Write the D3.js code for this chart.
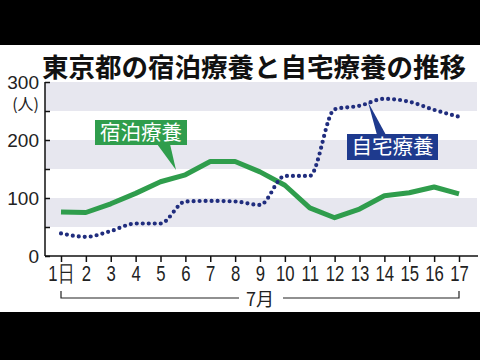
<!DOCTYPE html>
<html>
<head>
<meta charset="utf-8">
<script src="https://d3js.org/d3.v7.min.js"></script>
<style>
  body { margin:0; background:#000; }
  svg text { font-family: "Noto Sans CJK JP", "Noto Sans", sans-serif; }
</style>
</head>
<body>
<svg id="chart" width="480" height="360"></svg>
<script>
// 7月の日付
const days = d3.range(1, 18);
// 宿泊療養（人）
const hotel = [76, 75, 90, 108, 128, 140, 163, 163, 145, 122, 83, 66, 81, 104, 109, 119, 107];
// 自宅療養（人）
const home = [39, 33, 43, 56, 56, 94, 95, 94, 88, 138, 138, 253, 259, 271, 266, 252, 240];
const yTicks = [0, 50, 100, 150, 200, 250, 300];
const yLabels = [0, 100, 200, 300];
const bands = [[50, 100], [150, 200], [250, 300]];

const svg = d3.select('#chart');
svg.append('rect').attr('x', 0).attr('y', 45).attr('width', 480).attr('height', 267).attr('fill', '#fff');

const x = d3.scaleLinear().domain([1, 17]).range([61, 459]);
const y = d3.scaleLinear().domain([0, 300]).range([256, 82]);
const left = 45, right = 477;

// title
svg.append('text')
  .attr('x', 42).attr('y', 77)
  .style('font-size', '26.5px').style('font-weight', 'bold')
  .attr('fill', '#111')
  .text('東京都の宿泊療養と自宅療養の推移');

// gray bands
svg.append('g').selectAll('rect').data(bands).enter().append('rect')
  .attr('x', left).attr('width', right - left)
  .attr('y', d => y(d[1])).attr('height', d => y(d[0]) - y(d[1]))
  .attr('fill', '#e7e7ef');

// y axis
const yAxis = svg.append('g').attr('transform', 'translate(' + left + ',0)')
  .call(d3.axisLeft(y).tickValues(yTicks).tickSize(-5).tickPadding(6)
    .tickFormat(d => yLabels.includes(d) ? d : ''));
yAxis.select('.domain').attr('d', 'M0,' + y(300) + 'V' + y(0)).attr('stroke', '#111').attr('stroke-width', 1.5);
yAxis.selectAll('.tick line').attr('stroke', '#111').attr('stroke-width', 1.5);
yAxis.selectAll('.tick text').style('font-family', '"Liberation Sans", sans-serif')
  .style('font-size', '19px').attr('fill', '#222').attr('dy', '0.33em');
svg.append('text').attr('x', 39).attr('y', 110).attr('text-anchor', 'end')
  .style('font-size', '16px').attr('fill', '#222').text('(人)');

// x axis
const xAxis = svg.append('g').attr('transform', 'translate(0,' + y(0) + ')')
  .call(d3.axisBottom(x).tickValues(days).tickSize(6).tickPadding(3)
    .tickFormat(d => d === 1 ? '1日' : d));
xAxis.select('.domain').attr('d', 'M' + left + ',0H' + (right + 1)).attr('stroke', '#111').attr('stroke-width', 1.5);
xAxis.selectAll('.tick line').attr('stroke', '#111').attr('stroke-width', 1.5);
xAxis.selectAll('.tick text')
  .style('font-family', '"Liberation Sans", sans-serif')
  .style('font-size', '22px').attr('fill', '#222')
  .attr('transform', 'scale(0.76,1)');

// 7月 bracket
const by = 298, bmid = 260;
svg.append('path')
  .attr('d', 'M' + x(1) + ',' + (by - 7) + 'V' + by + 'H' + (bmid - 21) +
    'M' + (bmid + 23) + ',' + by + 'H' + x(17) + 'V' + (by - 7))
  .attr('fill', 'none').attr('stroke', '#222').attr('stroke-width', 1.2);
svg.append('text').attr('x', bmid).attr('y', by + 8).attr('text-anchor', 'middle')
  .style('font-size', '18px').attr('fill', '#222').text('7月');

// lines
const green = '#2f9d4c', navy = '#202d7e';
svg.append('path').datum(hotel)
  .attr('d', d3.line().x((d, i) => x(days[i])).y(d => y(d)))
  .attr('fill', 'none').attr('stroke', green).attr('stroke-width', 5).attr('stroke-linejoin', 'round');
svg.append('path').datum(home)
  .attr('d', d3.line().x((d, i) => x(days[i])).y(d => y(d)).curve(d3.curveMonotoneX))
  .attr('fill', 'none').attr('stroke', navy).attr('stroke-width', 4.2)
  .attr('stroke-linecap', 'round').attr('stroke-dasharray', '0,6');

// callouts
function callout(bx, bw, by0, bh, tail, fill, label) {
  svg.append('path').attr('d', 'M' + tail.join('L') + 'Z').attr('fill', fill);
  svg.append('rect').attr('x', bx).attr('y', by0).attr('width', bw).attr('height', bh).attr('fill', fill);
  svg.append('text').attr('x', bx + bw / 2).attr('y', by0 + bh / 2).attr('dy', '0.36em')
    .attr('text-anchor', 'middle').style('font-size', '20.5px').attr('fill', '#fff').text(label);
}
callout(95, 92, 120, 25, [[157, 144], [170, 144], [176, 170]], green, '宿泊療養');
callout(347, 91, 134, 26, [[377, 135], [386, 135], [368, 102]], '#1e3a8e', '自宅療養');
</script>
</body>
</html>
